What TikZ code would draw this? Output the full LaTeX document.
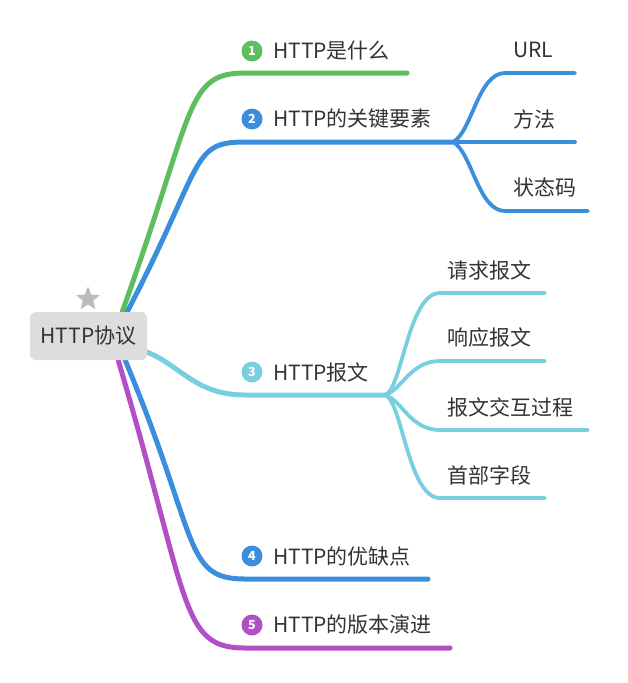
\documentclass[tikz,border=0pt]{standalone}
\usepackage{fontspec}
\setmainfont{Noto Sans CJK SC}
\usetikzlibrary{backgrounds,shapes.geometric}
\definecolor{cgreen}{HTML}{5DBE5E}
\definecolor{cblue}{HTML}{3B8EDE}
\definecolor{ccyan}{HTML}{78CFDF}
\definecolor{cpurple}{HTML}{B24FC7}
\definecolor{txt}{HTML}{333333}
\definecolor{rootgray}{HTML}{DDDDDD}
\definecolor{stargray}{HTML}{BBBBBB}
\begin{document}
\begin{tikzpicture}[x=1pt,y=-1pt,
  lbl/.style={anchor=west,inner sep=0pt,text=txt,font=\fontsize{21}{25}\selectfont},
  rootbox/.style={fill=rootgray,rounded corners=6pt,minimum width=117pt,minimum height=48pt,inner sep=0pt,text=txt,font=\fontsize{21}{25}\selectfont},
  badge/.style={circle,inner sep=0pt,minimum size=21pt,text=white,font=\fontsize{12.5}{14}\selectfont\bfseries},
  mainline/.style={line width=5pt,line cap=round},
  subline/.style={line width=3.8pt,line cap=round}]
\useasboundingbox (0,0) rectangle (627,683);

\node[rootbox] (root) at (88.5,336) {HTTP协议};
\node[star,star points=5,star point ratio=2.3,fill=stargray,inner sep=0pt,minimum size=25pt] (star) at (88,299) {};

% badges and labels
\node[badge,fill=cgreen] (b1) at (252,51) {1};
\node[lbl] (t1) at (273,51) {HTTP是什么};
\node[badge,fill=cblue] (b2) at (252,119) {2};
\node[lbl] (t2) at (273,119) {HTTP的关键要素};
\node[badge,fill=ccyan] (b3) at (252,372) {3};
\node[lbl] (t3) at (273,372) {HTTP报文};
\node[badge,fill=cblue] (b4) at (252,556) {4};
\node[lbl] (t4) at (273,556) {HTTP的优缺点};
\node[badge,fill=cpurple] (b5) at (252,625) {5};
\node[lbl] (t5) at (273,625) {HTTP的版本演进};

\node[lbl] (s21) at (513,50) {URL};
\node[lbl] (s22) at (513,119) {方法};
\node[lbl] (s23) at (513,187) {状态码};

\node[lbl] (s31) at (447,270) {请求报文};
\node[lbl] (s32) at (447,338) {响应报文};
\node[lbl] (s33) at (447,407) {报文交互过程};
\node[lbl] (s34) at (447,475) {首部字段};

% coordinates
\coordinate (k1) at (245,73);   \coordinate (e1) at (407,73);
\coordinate (k2) at (245,142);  \coordinate (f2) at (453,142);
\coordinate (k3) at (245,395);  \coordinate (f3) at (385,395);
\coordinate (k4) at (245,579);  \coordinate (e4) at (428,579);
\coordinate (k5) at (245,648);  \coordinate (e5) at (450,648);

\coordinate (u21) at (505,73);  \coordinate (e21) at (575,73);
\coordinate (e22) at (575,142);
\coordinate (u23) at (505,211); \coordinate (e23) at (588,211);

\coordinate (u31) at (440,293); \coordinate (e31) at (545,293);
\coordinate (u32) at (440,361); \coordinate (e32) at (545,361);
\coordinate (u33) at (440,430); \coordinate (e33) at (588,430);
\coordinate (u34) at (440,498); \coordinate (e34) at (545,498);

\begin{scope}[on background layer]
\draw[mainline,cblue] ([xshift=-20pt]root.north east) .. controls (205,162) and (190,142) .. (k2) -- (f2);
\draw[mainline,cgreen] ([xshift=-25pt]root.north east) .. controls (195,110) and (185,73) .. (k1) -- (e1);
\draw[mainline,ccyan] ([yshift=8pt]root.south east) .. controls (180,365) and (195,395) .. (k3) -- (f3);
\draw[mainline,cpurple] ([xshift=-29pt]root.south east) .. controls (190,603) and (180,648) .. (k5) -- (e5);
\draw[mainline,cblue] ([xshift=-22pt]root.south east) .. controls (200,540) and (183,579) .. (k4) -- (e4);

\draw[subline,cblue] (f2) .. controls (472,132) and (478,73) .. (u21) -- (e21);
\draw[subline,cblue] (f2) -- (e22);
\draw[subline,cblue] (f2) .. controls (472,152) and (478,211) .. (u23) -- (e23);

\draw[subline,ccyan] (f3) .. controls (402,390) and (408,293) .. (u31) -- (e31);
\draw[subline,ccyan] (f3) .. controls (402,390) and (410,361) .. (u32) -- (e32);
\draw[subline,ccyan] (f3) .. controls (402,400) and (410,430) .. (u33) -- (e33);
\draw[subline,ccyan] (f3) .. controls (402,400) and (408,498) .. (u34) -- (e34);
\end{scope}
\end{tikzpicture}
\end{document}
